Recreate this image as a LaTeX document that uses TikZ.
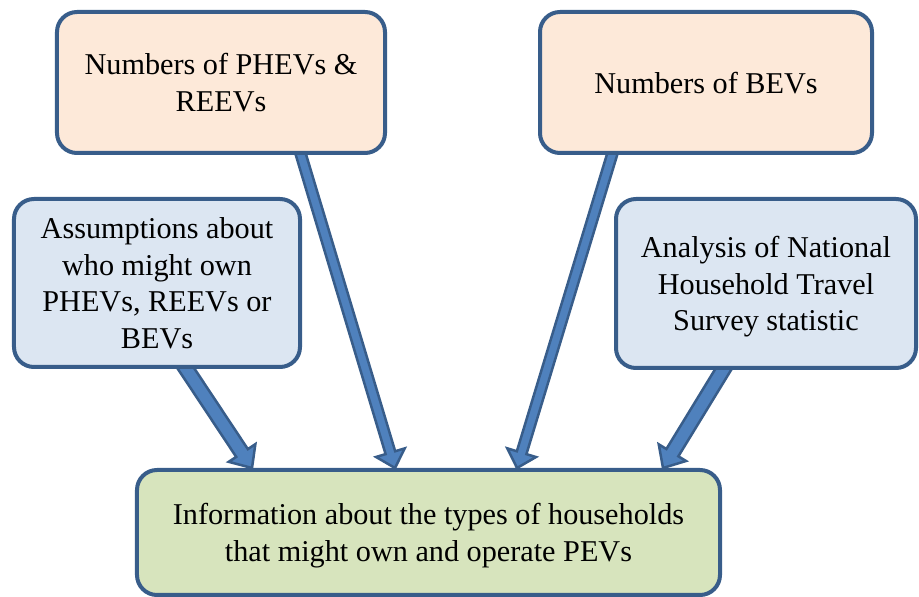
\documentclass[tikz,border=0pt]{standalone}
\usepackage{fontspec}
\setmainfont{Liberation Serif}
\usepackage{tikz}
\usetikzlibrary{calc, backgrounds}

\definecolor{boxline}{RGB}{56,93,138}
\definecolor{arrowfill}{RGB}{79,129,189}
\definecolor{peach}{RGB}{253,233,217}
\definecolor{paleblue}{RGB}{220,230,242}
\definecolor{palegreen}{RGB}{215,228,189}

\tikzset{
    infobox/.style={draw=boxline, line width=1.2mm, rounded corners=6mm, align=center,
        inner sep=0pt, text depth=0pt, font=\fontsize{25.8pt}{31.2pt}\selectfont},
    fatarrow/.style={fill=arrowfill, draw=boxline, line width=0.75mm},
}

% block arrow: tail, tip, half shaft width, half head width, head length
\newcommand{\blockarrow}[5]{%
    \coordinate (ah) at ($(#2)!#5!(#1)$);
    \filldraw[fatarrow] ($(#1)!#3!90:(#2)$) -- ($(ah)!#3!90:(#2)$) -- ($(ah)!#4!90:(#2)$)
        -- (#2) -- ($(ah)!#4!-90:(#2)$) -- ($(ah)!#3!-90:(#2)$) -- ($(#1)!#3!-90:(#2)$) -- cycle;
}

\begin{document}
\begin{tikzpicture}[x=0.3mm, y=0.3mm]
    \useasboundingbox (0,0) rectangle (919,597);

    \node[infobox, fill=peach, minimum width=98.4mm, minimum height=42.3mm] (phev) at (221,514.5)
        {Numbers of PHEVs \&\\REEVs};
    \node[infobox, fill=peach, minimum width=99.6mm, minimum height=42.3mm] (bev) at (706,514.5)
        {Numbers of BEVs};
    \node[infobox, fill=paleblue, minimum width=85.8mm, minimum height=50.4mm] (assume) at (157,314)
        {Assumptions about\\who might own\\PHEVs, REEVs or\\BEVs};
    \node[infobox, fill=paleblue, minimum width=90mm, minimum height=50.7mm] (nhts) at (766,313.5)
        {Analysis of National\\Household Travel\\Survey statistic};
    \node[infobox, fill=palegreen, minimum width=174.9mm, minimum height=37.5mm] (info) at (428.5,64.5)
        {Information about the types of households\\that might own and operate PEVs};

    % arrows sit behind the boxes so their tails are hidden
    \begin{scope}[on background layer]
        \coordinate (t1) at ($(assume.south)+(22,11)$);
        \coordinate (h1) at ($(info.north)+(-176.5,0)$);
        \coordinate (t2) at ($(phev.south)+(77,10)$);
        \coordinate (h2) at ($(info.north)+(-33.5,0)$);
        \coordinate (t3) at ($(bev.south)+(-91,10)$);
        \coordinate (h3) at ($(info.north)+(88.5,0)$);
        \coordinate (t4) at ($(nhts.south)+(-37,10)$);
        \coordinate (h4) at ($(info.north)+(234.5,0)$);
        \blockarrow{t1}{h1}{2.1mm}{4.8mm}{5.4mm}
        \blockarrow{t2}{h2}{1.5mm}{4.5mm}{4.8mm}
        \blockarrow{t3}{h3}{1.5mm}{4.5mm}{4.8mm}
        \blockarrow{t4}{h4}{2.1mm}{4.8mm}{5.4mm}
    \end{scope}
\end{tikzpicture}
\end{document}
